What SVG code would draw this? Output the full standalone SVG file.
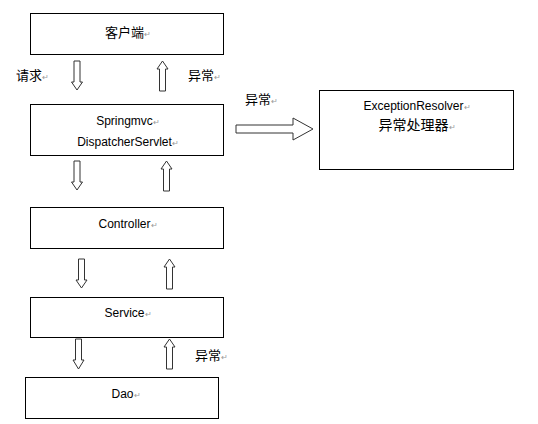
<svg xmlns="http://www.w3.org/2000/svg" width="538" height="424" viewBox="0 0 538 424">
<style>
.box{fill:#fff;stroke:#000;stroke-width:1}
.arr{fill:#fff;stroke:#333;stroke-width:1}
.t{font-family:"Liberation Sans","Noto Sans CJK SC",sans-serif;font-size:12px;fill:#000;text-anchor:middle}
.c{font-family:"Noto Sans CJK SC",sans-serif;font-size:13px;fill:#000}
.pm{fill:#999;font-size:8px}
</style>
<rect width="538" height="424" fill="#fff"/>
<g id="connectors">
<path class="arr" d="M74,61 H80 V82 H82.5 L77,90 L71.5,82 H74 Z"/>
<path class="arr" d="M159.5,91 H165.5 V69 H168 L162.5,61 L157,69 H159.5 Z"/>
<path class="arr" d="M74,161 H80 V182 H82.5 L77,190 L71.5,182 H74 Z"/>
<path class="arr" d="M163.5,191 H169.5 V169 H172 L166.5,161 L161,169 H163.5 Z"/>
<path class="arr" d="M78.5,259 H84.5 V280 H87 L81.5,288 L76,280 H78.5 Z"/>
<path class="arr" d="M166.5,289 H172.5 V267 H175 L169.5,259 L164,267 H166.5 Z"/>
<path class="arr" d="M75.5,339 H81.5 V360 H84 L78.5,369 L73,360 H75.5 Z"/>
<path class="arr" d="M166.5,369 H172.5 V347 H175 L169.5,339 L164,347 H166.5 Z"/>
<path class="arr" d="M236,125 H293 V118 L313,129 L293,140 V133 H236 Z"/>
</g>
<g id="labels">
<text class="c" x="16" y="80">请求<tspan class="pm">↵</tspan></text>
<text class="c" x="188" y="80">异常<tspan class="pm">↵</tspan></text>
<text class="c" x="245" y="104">异常<tspan class="pm">↵</tspan></text>
<text class="c" x="195" y="360">异常<tspan class="pm">↵</tspan></text>
</g>
<g id="client">
<rect class="box" x="30.5" y="13.5" width="193" height="41"/>
<text class="t" x="128" y="37" style="font-size:13px;font-family:'Noto Sans CJK SC',sans-serif">客户端<tspan class="pm">↵</tspan></text>
</g>
<g id="dispatcher">
<rect class="box" x="30.5" y="104.5" width="193" height="51"/>
<text class="t" x="128" y="125">Springmvc<tspan class="pm">↵</tspan></text>
<text class="t" x="128" y="146">DispatcherServlet<tspan class="pm">↵</tspan></text>
</g>
<g id="controller">
<rect class="box" x="30.5" y="207.5" width="193" height="41"/>
<text class="t" x="128" y="228">Controller<tspan class="pm">↵</tspan></text>
</g>
<g id="service">
<rect class="box" x="30.5" y="297.5" width="193" height="40"/>
<text class="t" x="128" y="317">Service<tspan class="pm">↵</tspan></text>
</g>
<g id="dao">
<rect class="box" x="25.5" y="377.5" width="193" height="41"/>
<text class="t" x="126" y="398">Dao<tspan class="pm">↵</tspan></text>
</g>
<g id="resolver">
<rect class="box" x="319.5" y="90.5" width="194" height="79"/>
<text class="t" x="417" y="110">ExceptionResolver<tspan class="pm">↵</tspan></text>
<text class="t" x="417" y="130" style="font-size:14px;font-family:'Noto Sans CJK SC',sans-serif">异常处理器<tspan class="pm">↵</tspan></text>
</g>
</svg>
